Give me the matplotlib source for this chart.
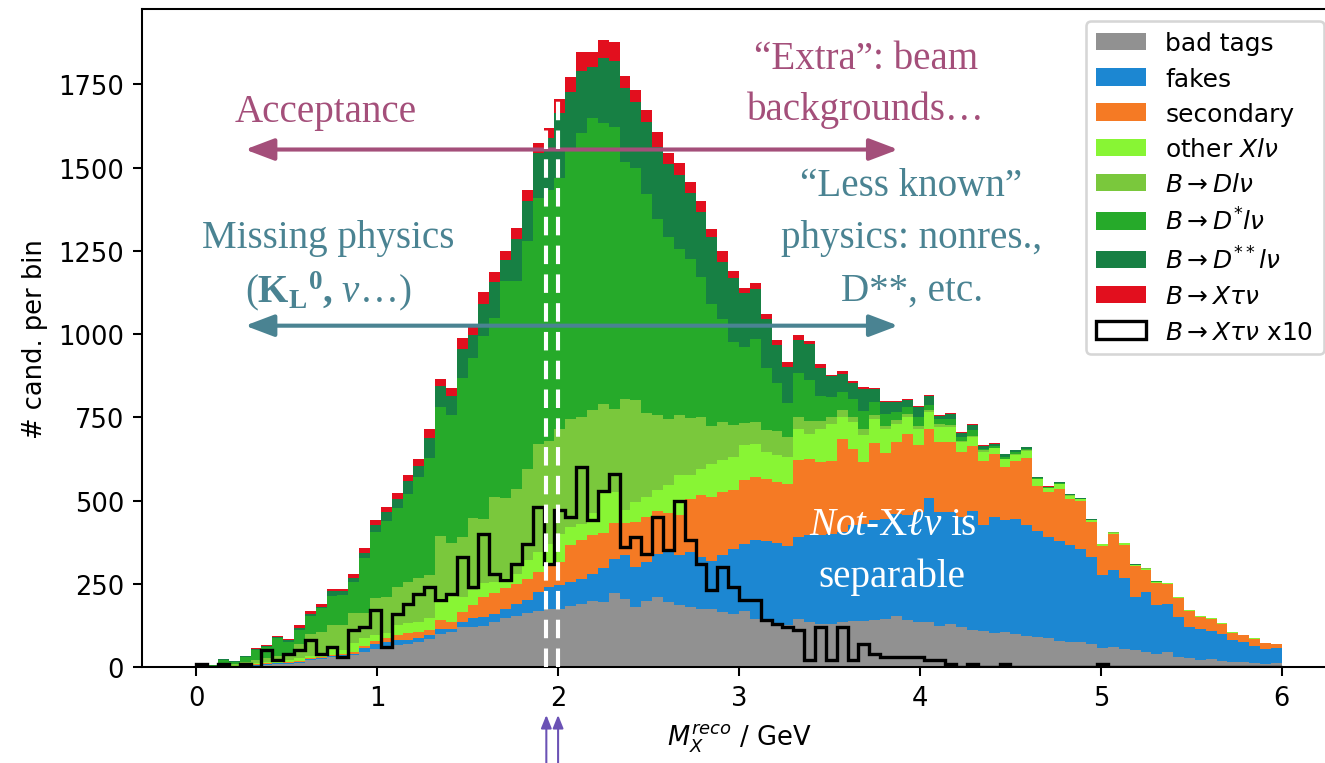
import numpy as np
import matplotlib
matplotlib.use("Agg")
import matplotlib.pyplot as plt
from matplotlib.patches import FancyArrowPatch
import matplotlib.transforms as mtransforms

plt.rcParams['mathtext.fontset'] = 'dejavusans'
plt.rcParams['mathtext.rm'] = 'Liberation Serif'
plt.rcParams['mathtext.it'] = 'Liberation Serif:italic'
plt.rcParams['mathtext.bf'] = 'Liberation Serif:bold'

# ---------------- data (counts per bin, 100 bins from 0 to 6 GeV) ----------------
bin_edges = np.linspace(0.0, 6.0, 101)

bad_tags = [1, 1, 2, 2, 3, 4, 5, 8, 9, 12,
            20, 23, 30, 33, 37, 45, 55, 60, 66, 70,
            74, 84, 99, 106, 119, 119, 124, 134, 146, 154,
            162, 168, 174, 174, 184, 189, 199, 196, 222, 204,
            179, 199, 211, 194, 187, 179, 174, 174, 166, 159,
            169, 144, 134, 132, 126, 144, 135, 129, 129, 134,
            139, 139, 142, 144, 154, 142, 134, 135, 124, 129,
            119, 112, 109, 102, 104, 99, 94, 89, 86, 79,
            76, 75, 70, 58, 61, 54, 51, 46, 40, 44,
            31, 27, 22, 24, 19, 16, 14, 11, 10, 11]

fakes = [0, 0, 1, 1, 2, 3, 4, 3, 3, 3,
         4, 4, 3, 2, 3, 11, 15, 14, 14, 12,
         14, 12, 15, 8, 17, 27, 26, 26, 28, 35,
         38, 58, 66, 72, 72, 76, 79, 100, 103, 131,
         121, 116, 129, 151, 148, 166, 156, 144, 169, 196,
         201, 236, 244, 240, 236, 246, 260, 266, 271, 271,
         286, 289, 298, 301, 306, 313, 331, 373, 341, 336,
         331, 355, 316, 348, 336, 346, 331, 318, 304, 299,
         289, 279, 260, 217, 229, 213, 159, 179, 146, 145,
         118, 92, 92, 85, 80, 65, 60, 53, 44, 45]

secondary = [0, 0, 1, 1, 1, 2, 2, 2, 3, 3,
             3, 4, 3, 5, 6, 8, 8, 12, 16, 19,
             18, 15, 27, 22, 30, 40, 61, 61, 62, 61,
             65, 59, 65, 70, 110, 115, 118, 105, 106, 96,
             136, 136, 128, 116, 121, 161, 186, 193, 191, 176,
             191, 191, 188, 184, 189, 231, 231, 220, 220, 279,
             230, 187, 233, 198, 216, 246, 203, 208, 211, 212,
             197, 197, 194, 190, 161, 175, 203, 138, 135, 157,
             140, 146, 105, 88, 109, 100, 93, 67, 67, 59,
             59, 49, 37, 35, 31, 21, 21, 20, 18, 12]

other_xlnu = [1, 1, 2, 2, 3, 4, 5, 6, 6, 8,
              6, 5, 20, 12, 25, 22, 18, 15, 30, 30,
              30, 35, 65, 80, 45, 45, 40, 35, 30, 30,
              55, 60, 65, 84, 54, 50, 65, 125, 95, 40,
              60, 60, 63, 85, 120, 70, 80, 100, 95, 100,
              105, 100, 80, 80, 80, 95, 74, 100, 110, 67,
              80, 82, 73, 72, 55, 50, 47, 50, 45, 43,
              28, 27, 27, 17, 23, 18, 22, 19, 12, 14,
              10, 4, 5, 5, 4, 4, 3, 3, 3, 3,
              2, 2, 2, 2, 2, 2, 2, 2, 1, 1]

b_dlnu = [1, 1, 4, 3, 5, 9, 12, 13, 19, 44,
          67, 69, 70, 74, 90, 75, 110, 110, 115, 125,
          130, 130, 188, 157, 180, 215, 193, 255, 242, 256,
          275, 325, 308, 316, 326, 321, 310, 265, 250, 335,
          305, 251, 226, 199, 181, 171, 156, 114, 116, 96,
          66, 64, 66, 74, 59, 34, 40, 25, 20, 20,
          15, 18, 12, 10, 10, 10, 8, 5, 10, 7,
          5, 3, 5, 0, 2, 2, 2, 1, 1, 1,
          1, 1, 1, 1, 1, 1, 1, 1, 0, 0,
          0, 0, 0, 0, 0, 0, 0, 0, 0, 0]

b_dstar_lnu = [2, 2, 11, 7, 17, 29, 33, 54, 36, 41,
               53, 71, 88, 90, 95, 167, 200, 227, 235, 265,
               305, 352, 387, 385, 477, 482, 549, 537, 650, 622,
               683, 738, 755, 752, 814, 852, 879, 844, 847, 712,
               699, 658, 588, 545, 498, 478, 418, 365, 308, 248,
               230, 250, 186, 143, 103, 133, 123, 75, 60, 55,
               55, 55, 38, 35, 25, 20, 27, 15, 13, 18,
               10, 17, 5, 6, 5, 5, 3, 2, 2, 2,
               2, 1, 1, 0, 0, 0, 0, 0, 1, 1,
               1, 1, 1, 1, 0, 0, 0, 0, 0, 0]

b_dstarstar_lnu = [1, 0, 2, 2, 2, 4, 3, 4, 4, 7,
                   6, 5, 13, 13, 12, 15, 19, 27, 29, 39,
                   34, 60, 63, 56, 88, 68, 96, 107, 64, 127,
                   121, 135, 155, 195, 168, 187, 153, 195, 197, 220,
                   196, 216, 218, 220, 222, 197, 197, 202, 172, 192,
                   160, 150, 148, 113, 108, 100, 108, 83, 65, 55,
                   49, 65, 38, 37, 30, 20, 31, 28, 10, 14,
                   13, 16, 8, 8, 8, 6, 6, 3, 2, 3,
                   2, 1, 1, 1, 1, 1, 1, 1, 0, 0,
                   0, 0, 0, 0, 0, 0, 0, 0, 0, 0]

b_xtaunu = [0, 0, 1, 1, 1, 2, 2, 4, 4, 8,
            8, 7, 7, 5, 12, 14, 17, 15, 18, 18,
            20, 26, 20, 24, 32, 25, 38, 30, 27, 32,
            33, 32, 30, 43, 45, 58, 43, 52, 58, 37,
            37, 37, 43, 35, 38, 33, 32, 23, 32, 23,
            17, 17, 13, 15, 15, 13, 7, 13, 3, 7,
            4, 5, 5, 3, 3, 3, 2, 2, 2, 3,
            2, 3, 2, 2, 2, 1, 1, 0, 1, 1,
            0, 0, 0, 0, 0, 0, 0, 0, 0, 0,
            0, 0, 0, 0, 0, 0, 0, 0, 0, 0]

b_xtaunu_x10 = [10, 0, 10, 0, 10, 0, 50, 20, 40, 50,
                80, 40, 60, 30, 110, 120, 170, 60, 160, 190,
                220, 240, 200, 220, 330, 240, 400, 280, 260, 310,
                370, 480, 310, 470, 450, 600, 440, 530, 580, 360,
                390, 340, 450, 350, 500, 380, 310, 230, 300, 240,
                200, 200, 140, 130, 120, 110, 20, 120, 20, 120,
                20, 70, 40, 30, 30, 30, 30, 20, 20, 10,
                0, 10, 0, 0, 10, 0, 0, 0, 0, 0,
                0, 0, 0, 10, 0, 0, 0, 0, 0, 0,
                0, 0, 0, 0, 0, 0, 0, 0, 0, 0]

labels = ['bad tags', 'fakes', 'secondary', r'other $Xl\nu$',
          r'$B\rightarrow Dl\nu$', r'$B\rightarrow D^{*}l\nu$',
          r'$B\rightarrow D^{**}l\nu$', r'$B\rightarrow X\tau\nu$']
colors = ['#919191', '#1c87d2', '#f57a24', '#88f534',
          '#7ac83c', '#26aa2a', '#178044', '#e20f1e']
step_label = r'$B\rightarrow X\tau\nu$ x10'

# ---------------- figure ----------------
W, H, DPI = 1325, 764, 185
fig = plt.figure(figsize=(W / DPI, H / DPI), dpi=DPI)
ax = fig.add_axes([142 / W, (H - 668) / H, (1336 - 142) / W, (668 - 10) / H])

centers = 0.5 * (bin_edges[:-1] + bin_edges[1:])
series = [bad_tags, fakes, secondary, other_xlnu, b_dlnu,
          b_dstar_lnu, b_dstarstar_lnu, b_xtaunu]
_, _, stack_patches = ax.hist([centers] * len(series), bins=bin_edges,
                              weights=series, stacked=True,
                              histtype='stepfilled', color=colors)
_, _, step_patch = ax.hist(centers, bins=bin_edges, weights=b_xtaunu_x10,
                           histtype='step', color='black', lw=1.3, zorder=3)

ax.set_xlim(-0.3, 6.3)
ax.set_ylim(0, 1976)
ax.set_xticks(range(7))
ax.set_yticks(np.arange(0, 1751, 250))
ax.set_xlabel(r'$M_X^{reco}$ / GeV')
ax.set_ylabel('# cand. per bin')

handles = [p[0] if isinstance(p, list) else p for p in stack_patches]
handles.append(step_patch[0])
ax.legend(handles, labels + [step_label], loc='upper right',
          fontsize=9.7, labelspacing=0.45)

# annotation arrows
mag = '#a44f7a'
teal = '#4a8392'
for yv, c in [(1554, mag), (1025, teal)]:
    ax.add_patch(FancyArrowPatch((0.27, yv), (3.88, yv),
                                 arrowstyle='<|-|>,head_length=9.5,head_width=3.6',
                                 mutation_scale=1, lw=1.6, color=c,
                                 shrinkA=0, shrinkB=0, zorder=4))

# white dashed lines
for xv in (1.935, 2.0):
    ax.axvline(xv, color='white', lw=1.6, ls=(0, (4.5, 2.5)), zorder=5)

# purple arrows below the axis
trans = mtransforms.blended_transform_factory(ax.transData, fig.transFigure)
for xv in (1.935, 2.0):
    ar = FancyArrowPatch((xv, 0.0), (xv, (H - 716) / H),
                         arrowstyle='-|>,head_length=4.2,head_width=1.7',
                         mutation_scale=1, lw=0.8, color='#6b52b5',
                         shrinkA=0, shrinkB=0, transform=trans, clip_on=False)
    fig.add_artist(ar)

# serif annotation texts
def put(px, py, s, color):
    fig.text(px / W, 1 - py / H, s, ha='center', va='baseline',
             fontsize=15.2, family='Liberation Serif',
             math_fontfamily='custom', color=color, zorder=10)

put(326, 122, 'Acceptance', mag)
put(866, 69, '\u201cExtra\u201d: beam', mag)
put(866, 120, 'backgrounds\u2026', mag)
put(328, 248, 'Missing physics', teal)
put(328, 302, r'($\mathbf{K}_{\mathbf{L}}{}^{\mathbf{0}}\mathbf{,}\ \nu\ldots$)', teal)
put(911, 196, '\u201cLess known\u201d', teal)
put(912, 248, 'physics: nonres.,', teal)
put(912, 301, 'D**, etc.', teal)
put(893, 535, r'$\mathit{Not}$-X$\ell\nu$ is', 'white')
put(892, 587, 'separable', 'white')

fig.savefig('out.png', dpi=DPI)
